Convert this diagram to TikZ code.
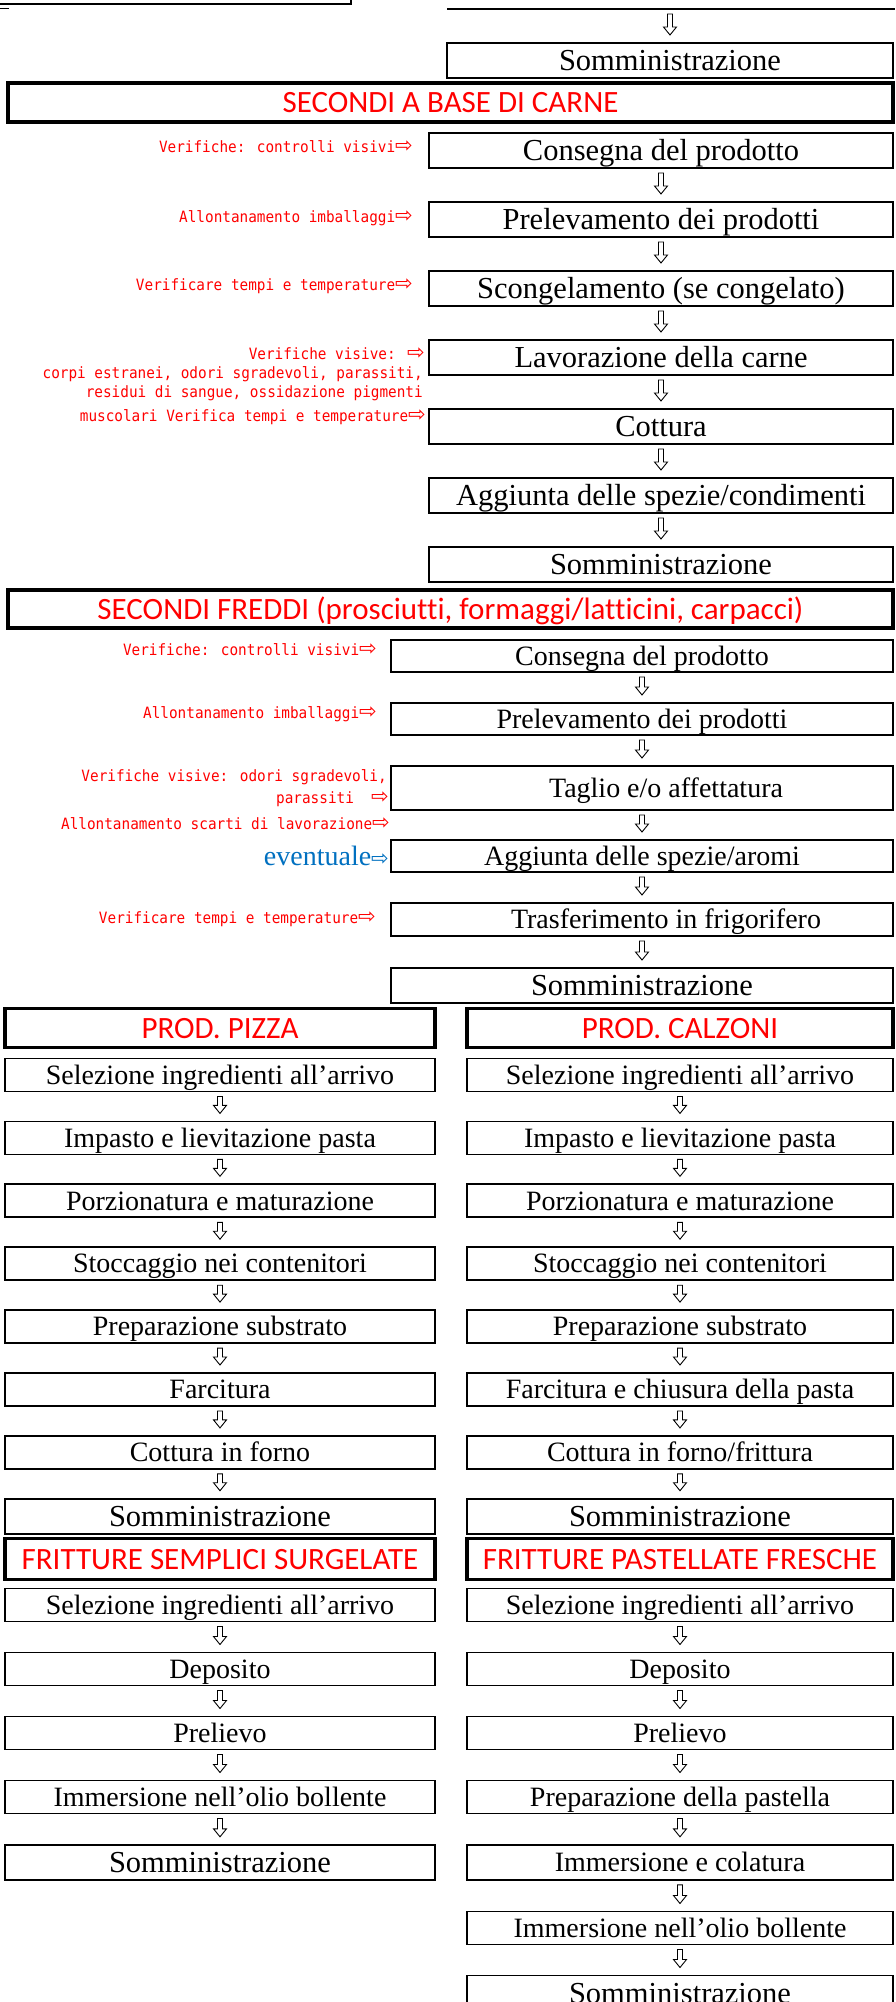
\documentclass[tikz,border=0pt]{standalone}
\usepackage{fontspec}
\setmainfont{Liberation Serif}
\newfontfamily\hdfont[Ligatures=NoCommon, Contextuals=NoAlternate, RawFeature={-liga;-clig;-calt}]{Carlito}
\newfontfamily\notefont[FakeStretch=0.92]{DejaVu Sans Mono}
\newfontfamily\arrfont{DejaVu Sans}
\usetikzlibrary{calc}
\definecolor{evblue}{RGB}{0,112,192}
\newcommand{\hollowarr}{{\arrfont\fontsize{21}{21}\selectfont\char"21E8}}
\tikzset{
  box/.style={draw, line width=1.8pt, inner sep=0pt, outer sep=0pt,
    font=\fontsize{28}{30}\selectfont, text height=21pt, text depth=2.5pt},
  bigbox/.style={box, font=\fontsize{30.5}{32}\selectfont, text height=22.8pt, text depth=2.6pt},
  head/.style={draw, line width=3.2pt, inner sep=0pt, outer sep=0pt, text=red,
    font=\hdfont\fontsize{31}{33}\selectfont, text height=22pt, text depth=2pt},
  note/.style={text=red, inner sep=0pt, anchor=base east,
    font=\notefont\fontsize{15.6}{17}\selectfont},
  carne/.style={minimum width=464pt, minimum height=35pt},
  freddi/.style={minimum width=502pt, minimum height=32pt},
  lcol/.style={minimum width=430pt, minimum height=33pt},
  rcol/.style={minimum width=426pt, minimum height=33pt},
  dn/.style={draw, line width=0.9pt, line join=miter, to path={
    let \p1=(\tikztostart), \p2=(\tikztotarget) in
    (\x1-2.5pt,\y1-5pt) -- (\x1+2.5pt,\y1-5pt) -- (\x1+2.5pt,\y2+16pt)
    -- (\x1+6.5pt,\y2+16pt) -- (\x1,\y2+8pt) -- (\x1-6.5pt,\y2+16pt)
    -- (\x1-2.5pt,\y2+16pt) -- cycle}}
}
\begin{document}
\begin{tikzpicture}[x=1pt,y=-1pt]
\path[use as bounding box, fill=white] (0,0) rectangle (895,2002);
% Top (cut off)
\draw[line width=1.8pt] (0,4.3) -- (351,4.3) -- (351,-2);
\draw[line width=1.3pt] (0,8.3) -- (9,8.3);
\draw[line width=1.8pt] (447,9) -- (895,9);
\coordinate (top) at (670,9);
\node[bigbox, minimum width=446pt, minimum height=35pt] (som0) at (670,60.5) {Somministrazione};
\draw[dn] (top) to (som0.north);

% Secondi a base di carne
\node[head, minimum width=885pt, minimum height=39pt] (carne) at (450.5,102.5) {SECONDI A BASE DI CARNE};
\node[bigbox, carne] (c1) at (661,150.5) {Consegna del prodotto};
\node[bigbox, carne] (c2) at (661,219.5) {Prelevamento dei prodotti};
\node[bigbox, carne] (c3) at (661,288.5) {Scongelamento (se congelato)};
\node[bigbox, carne] (c4) at (661,357.5) {Lavorazione della carne};
\node[bigbox, carne] (c5) at (661,426.5) {Cottura};
\node[bigbox, carne] (c6) at (661,495.5) {Aggiunta delle spezie/condimenti};
\node[bigbox, carne] (c7) at (661,564.5) {Somministrazione};
\draw[dn] (c1.south) to (c2.north);
\draw[dn] (c2.south) to (c3.north);
\draw[dn] (c3.south) to (c4.north);
\draw[dn] (c4.south) to (c5.north);
\draw[dn] (c5.south) to (c6.north);
\draw[dn] (c6.south) to (c7.north);
% Labels
\node[note] (cv1) at (413,152.5) {Verifiche: controlli visivi\hollowarr};
\node[note] (cv2) at (413,222) {Allontanamento imballaggi\hollowarr};
\node[note] (cv3) at (413,290.5) {Verificare tempi e temperature\hollowarr};
\node[note] (cv4) at (425,359) {Verifiche visive: \hollowarr};
\node[note] (cv5) at (423,378) {corpi estranei, odori sgradevoli, parassiti,};
\node[note] (cv6) at (423,397) {residui di sangue, ossidazione pigmenti};
\node[note] (cv7) at (426,421) {muscolari Verifica tempi e temperature\hollowarr};

% Secondi freddi
\node[head, minimum width=885pt, minimum height=38pt] (freddi) at (450.5,609) {SECONDI FREDDI (prosciutti, formaggi/latticini, carpacci)};
\node[box, freddi] (f1) at (642,656) {Consegna del prodotto};
\node[box, freddi] (f2) at (642,719) {Prelevamento dei prodotti};
\node[box, freddi, minimum height=44pt] (f3) at (642,788) {\hspace*{48pt}Taglio e/o affettatura};
\node[box, freddi] (f4) at (642,856) {Aggiunta delle spezie/aromi};
\node[box, freddi, minimum height=33pt] (f5) at (642,919.5) {\hspace*{48pt}Trasferimento in frigorifero};
\node[bigbox, freddi, minimum height=35pt] (f6) at (642,985.5) {Somministrazione};
\draw[dn] (f1.south) to (f2.north);
\draw[dn] (f2.south) to (f3.north);
\draw[dn] (f3.south) to (f4.north);
\draw[dn] (f4.south) to (f5.north);
\draw[dn] (f5.south) to (f6.north);
% Labels
\node[note] (fv1) at (377,655) {Verifiche: controlli visivi\hollowarr};
\node[note] (fv2) at (377,718) {Allontanamento imballaggi\hollowarr};
\node[note] (fv3) at (387,781) {Verifiche visive: odori sgradevoli,};
\node[note] (fv4) at (389,803) {parassiti\ \ \hollowarr};
\node[note] (fv5) at (390,829) {Allontanamento scarti di lavorazione\hollowarr};
\node[note, text=evblue, font=\fontsize{28}{30}\selectfont] (fv6) at (389,865) {eventuale\hollowarr};
\node[note] (fv7) at (376,923) {Verificare tempi e temperature\hollowarr};

% Pizza
\node[head, minimum width=430pt, minimum height=39pt] (pizza) at (220,1028) {PROD. PIZZA};
\node[box, lcol] (p1) at (220,1075) {Selezione ingredienti all’arrivo};
\node[box, lcol] (p2) at (220,1137.9) {Impasto e lievitazione pasta};
\node[box, lcol] (p3) at (220,1200.8) {Porzionatura e maturazione};
\node[box, lcol] (p4) at (220,1263.7) {Stoccaggio nei contenitori};
\node[box, lcol] (p5) at (220,1326.6) {Preparazione substrato};
\node[box, lcol] (p6) at (220,1389.5) {Farcitura};
\node[box, lcol] (p7) at (220,1452.4) {Cottura in forno};
\node[bigbox, lcol, minimum height=35pt] (p8) at (220,1516.2) {Somministrazione};
\draw[dn] (p1.south) to (p2.north);
\draw[dn] (p2.south) to (p3.north);
\draw[dn] (p3.south) to (p4.north);
\draw[dn] (p4.south) to (p5.north);
\draw[dn] (p5.south) to (p6.north);
\draw[dn] (p6.south) to (p7.north);
\draw[dn] (p7.south) to (p8.north);

% Calzoni
\node[head, minimum width=426pt, minimum height=39pt] (calzoni) at (680,1028) {PROD. CALZONI};
\node[box, rcol] (z1) at (680,1075) {Selezione ingredienti all’arrivo};
\node[box, rcol] (z2) at (680,1137.9) {Impasto e lievitazione pasta};
\node[box, rcol] (z3) at (680,1200.8) {Porzionatura e maturazione};
\node[box, rcol] (z4) at (680,1263.7) {Stoccaggio nei contenitori};
\node[box, rcol] (z5) at (680,1326.6) {Preparazione substrato};
\node[box, rcol] (z6) at (680,1389.5) {Farcitura e chiusura della pasta};
\node[box, rcol] (z7) at (680,1452.4) {Cottura in forno/frittura};
\node[bigbox, rcol, minimum height=35pt] (z8) at (680,1516.2) {Somministrazione};
\draw[dn] (z1.south) to (z2.north);
\draw[dn] (z2.south) to (z3.north);
\draw[dn] (z3.south) to (z4.north);
\draw[dn] (z4.south) to (z5.north);
\draw[dn] (z5.south) to (z6.north);
\draw[dn] (z6.south) to (z7.north);
\draw[dn] (z7.south) to (z8.north);

% Fritture semplici
\node[head, minimum width=430pt, minimum height=41pt] (fsem) at (220,1559) {FRITTURE SEMPLICI SURGELATE};
\node[box, lcol] (s1) at (220,1605) {Selezione ingredienti all’arrivo};
\node[box, lcol] (s2) at (220,1669) {Deposito};
\node[box, lcol] (s3) at (220,1733) {Prelievo};
\node[box, lcol] (s4) at (220,1797) {Immersione nell’olio bollente};
\node[bigbox, lcol, minimum height=35pt] (s5) at (220,1862.3) {Somministrazione};
\draw[dn] (s1.south) to (s2.north);
\draw[dn] (s2.south) to (s3.north);
\draw[dn] (s3.south) to (s4.north);
\draw[dn] (s4.south) to (s5.north);

% Fritture pastellate
\node[head, minimum width=426pt, minimum height=41pt] (fpas) at (680,1559) {FRITTURE PASTELLATE FRESCHE};
\node[box, rcol] (r1) at (680,1605) {Selezione ingredienti all’arrivo};
\node[box, rcol] (r2) at (680,1669) {Deposito};
\node[box, rcol] (r3) at (680,1733) {Prelievo};
\node[box, rcol] (r4) at (680,1797) {Preparazione della pastella};
\node[box, rcol, minimum height=35pt] (r5) at (680,1862.3) {Immersione e colatura};
\node[box, rcol] (r6) at (680,1928) {Immersione nell’olio bollente};
\node[bigbox, rcol, minimum height=35pt] (r7) at (680,1993) {Somministrazione};
\draw[dn] (r1.south) to (r2.north);
\draw[dn] (r2.south) to (r3.north);
\draw[dn] (r3.south) to (r4.north);
\draw[dn] (r4.south) to (r5.north);
\draw[dn] (r5.south) to (r6.north);
\draw[dn] (r6.south) to (r7.north);
\end{tikzpicture}
\end{document}
